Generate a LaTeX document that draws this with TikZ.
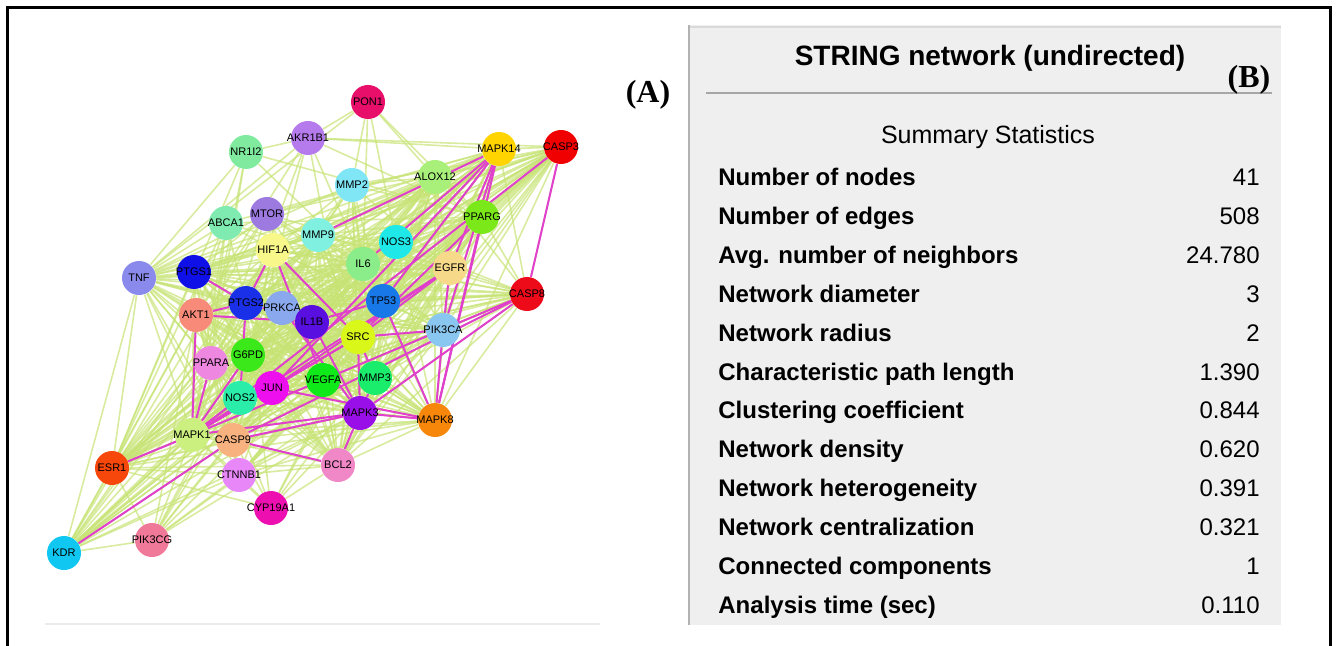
\documentclass[tikz,border=0pt]{standalone}
\usepackage{fontspec}
\setmainfont{Liberation Sans}
\newfontfamily\tagfont{Liberation Serif}
\usetikzlibrary{backgrounds}

\newlength{\du}
\setlength{\du}{0.5pt}

\definecolor{edgegreen}{rgb}{0.78,0.89,0.46}
\definecolor{edgepink}{rgb}{0.88,0.25,0.80}
\definecolor{panelgray}{rgb}{0.937,0.937,0.937}
\definecolor{panelrule}{rgb}{0.70,0.70,0.70}
% node fills
\definecolor{cPON}{rgb}{0.91,0.06,0.42}
\definecolor{cAKR}{rgb}{0.71,0.48,0.92}
\definecolor{cNRI}{rgb}{0.50,0.92,0.62}
\definecolor{cMKF}{rgb}{1.00,0.83,0.00}
\definecolor{cCSA}{rgb}{0.94,0.00,0.00}
\definecolor{cALX}{rgb}{0.66,0.94,0.48}
\definecolor{cMPB}{rgb}{0.50,0.90,0.96}
\definecolor{cMTR}{rgb}{0.61,0.48,0.88}
\definecolor{cABC}{rgb}{0.50,0.92,0.69}
\definecolor{cMPN}{rgb}{0.50,0.94,0.88}
\definecolor{cNOT}{rgb}{0.12,0.91,0.91}
\definecolor{cPPG}{rgb}{0.48,0.91,0.10}
\definecolor{cHIF}{rgb}{0.97,0.97,0.54}
\definecolor{cILS}{rgb}{0.54,0.93,0.54}
\definecolor{cEGF}{rgb}{0.97,0.85,0.54}
\definecolor{cCSE}{rgb}{0.93,0.04,0.10}
\definecolor{cTNF}{rgb}{0.54,0.54,0.93}
\definecolor{cPTA}{rgb}{0.06,0.06,0.91}
\definecolor{cAKT}{rgb}{0.97,0.54,0.47}
\definecolor{cPTB}{rgb}{0.10,0.19,0.91}
\definecolor{cPRK}{rgb}{0.54,0.66,0.93}
\definecolor{cILB}{rgb}{0.35,0.06,0.88}
\definecolor{cTPF}{rgb}{0.10,0.47,0.91}
\definecolor{cSRC}{rgb}{0.85,0.97,0.10}
\definecolor{cPIA}{rgb}{0.54,0.78,0.94}
\definecolor{cPPA}{rgb}{0.93,0.53,0.88}
\definecolor{cGSP}{rgb}{0.23,0.91,0.10}
\definecolor{cJUN}{rgb}{0.93,0.06,0.93}
\definecolor{cNOB}{rgb}{0.16,0.93,0.66}
\definecolor{cVEG}{rgb}{0.06,0.91,0.10}
\definecolor{cMPC}{rgb}{0.10,0.93,0.42}
\definecolor{cMKC}{rgb}{0.60,0.06,0.91}
\definecolor{cMKE}{rgb}{0.97,0.53,0.04}
\definecolor{cMKA}{rgb}{0.80,0.94,0.50}
\definecolor{cCSN}{rgb}{0.97,0.70,0.50}
\definecolor{cESR}{rgb}{0.97,0.28,0.04}
\definecolor{cCTN}{rgb}{0.91,0.53,0.97}
\definecolor{cBCL}{rgb}{0.94,0.53,0.78}
\definecolor{cCYP}{rgb}{0.93,0.06,0.69}
\definecolor{cPIG}{rgb}{0.94,0.47,0.60}
\definecolor{cKDR}{rgb}{0.06,0.78,0.94}

\tikzset{
  gene/.style={circle,inner sep=0pt,minimum size=34\du,font=\fontsize{5.5}{6}\selectfont},
  edge/.style={draw=edgegreen,line width=0.8pt,opacity=0.7},
  hit/.style={draw=edgepink,line width=1pt},
  statlab/.style={anchor=base west,inner sep=0pt,font=\fontsize{12}{14}\selectfont\bfseries},
  statval/.style={anchor=base east,inner sep=0pt,font=\fontsize{12}{14}\selectfont},
  paneltag/.style={inner sep=0pt,font=\fontsize{16}{18}\selectfont\tagfont\bfseries}
}

\def\corelist{MAPK14,CASP3,ALOX12,MMP9,NOS3,PPARG,HIF1A,IL6,EGFR,CASP8,PTGS1,AKT1,PTGS2,PRKCA,IL1B,TP53,SRC,PIK3CA,PPARA,G6PD,JUN,NOS2,VEGFA,MMP3,MAPK3,MAPK8,MAPK1,CASP9,ESR1,BCL2}

\begin{document}
\begin{tikzpicture}
\pgftransformxscale{1.000000}
\pgftransformyscale{-1.000000}
\useasboundingbox (0\du,0\du) rectangle (1336\du,646\du);

% outer frame, open at the bottom
\draw[line width=1.5pt] (7\du,646\du)--(7\du,8\du)--(1330\du,8\du)--(1330\du,646\du);
\draw[draw=black!8,line width=0.6pt] (45\du,624\du)--(600\du,624\du);

% (A) network
\foreach \name/\x/\y/\col in {
  PON1/368/102/cPON, AKR1B1/308/138/cAKR, NR1I2/246/152/cNRI,
  MAPK14/499/149/cMKF, CASP3/561/147/cCSA, ALOX12/435/177/cALX,
  MMP2/352/185/cMPB, MTOR/267/214/cMTR, ABCA1/226/223/cABC,
  MMP9/318/235/cMPN, NOS3/396/242/cNOT, PPARG/482/217/cPPG,
  HIF1A/273/250/cHIF, IL6/363/264/cILS, EGFR/450/268/cEGF,
  CASP8/527/294/cCSE, TNF/139/278/cTNF, PTGS1/194/272/cPTA,
  AKT1/196/315/cAKT, PTGS2/246/303/cPTB, PRKCA/282/308/cPRK,
  IL1B/312/322/cILB, TP53/383/301/cTPF, SRC/358/337/cSRC,
  PIK3CA/443/330/cPIA, PPARA/211/363/cPPA, G6PD/248/355/cGSP,
  JUN/272/388/cJUN, NOS2/240/398/cNOB, VEGFA/323/380/cVEG,
  MMP3/375/378/cMPC, MAPK3/360/413/cMKC, MAPK8/435/420/cMKE,
  MAPK1/192/435/cMKA, CASP9/233/440/cCSN, ESR1/112/468/cESR,
  CTNNB1/239/475/cCTN, BCL2/338/465/cBCL, CYP19A1/271/508/cCYP,
  PIK3CG/152/540/cPIG, KDR/64/553/cKDR}
  \node[gene,fill=\col] (\name) at (\x\du,\y\du) {\makebox[0pt]{\name}};

\begin{pgfonlayer}{background}
\foreach \a [count=\i] in \corelist {
  \foreach \b [count=\j] in \corelist {
    \ifnum\j>\i\relax \draw[edge] (\a) -- (\b); \fi
  }
}
\foreach \d in {PTGS1,AKT1,PTGS2,PRKCA,IL1B,IL6,HIF1A,SRC,EGFR,TP53,MAPK1,MAPK3,MAPK8,JUN,NOS2,CASP9,CASP3,CASP8,PPARA,VEGFA,MMP9,ESR1,KDR,BCL2,CTNNB1,MAPK14}
  \draw[edge] (TNF) -- (\d);
\foreach \d in {MAPK1,CASP9,ESR1,PIK3CG,SRC,VEGFA,EGFR,PIK3CA,AKT1,MAPK3,JUN,NOS2,NOS3,HIF1A,PTGS2,PRKCA,CASP3,MAPK14,CTNNB1,IL6,TP53}
  \draw[edge] (KDR) -- (\d);
\foreach \d in {MAPK1,CASP9,ESR1,AKT1,SRC,MAPK3,PIK3CA,PRKCA,CTNNB1,JUN,NOS2,G6PD}
  \draw[edge] (PIK3CG) -- (\d);
\foreach \d in {MAPK1,CASP9,AKT1,SRC,MAPK3,MAPK8,EGFR,TP53,JUN,ESR1,VEGFA,CASP3,PPARG,BCL2,CYP19A1}
  \draw[edge] (CTNNB1) -- (\d);
\foreach \d in {ESR1,MAPK1,CASP9,AKT1,PPARG,PTGS2,MAPK3,BCL2,SRC,TP53}
  \draw[edge] (CYP19A1) -- (\d);
\foreach \d in {HIF1A,AKT1,PTGS1,IL6,TP53,SRC,MAPK1,MAPK3,PIK3CA,EGFR,VEGFA,MAPK14,CASP3,TNF,KDR}
  \draw[edge] (MTOR) -- (\d);
\foreach \d in {PPARG,PPARA,TNF,HIF1A,IL6,AKT1,ESR1,MAPK1,PTGS2,MAPK14}
  \draw[edge] (ABCA1) -- (\d);
\foreach \d in {MMP9,IL6,TP53,VEGFA,MMP3,EGFR,SRC,HIF1A,TNF,MAPK1,MAPK3,CASP3,KDR,ALOX12,PPARG}
  \draw[edge] (MMP2) -- (\d);
\foreach \d in {AKR1B1,MMP2,IL6,ALOX12,PPARG,TNF,NOS3}
  \draw[edge] (PON1) -- (\d);
\foreach \d in {MAPK14,IL6,TNF,NOS2,PTGS2,MAPK3,CASP3,AKT1,PPARG,NR1I2}
  \draw[edge] (AKR1B1) -- (\d);
\foreach \d in {ESR1,PPARA,TNF,IL6,MAPK1,PPARG}
  \draw[edge] (NR1I2) -- (\d);
% stronger links
\foreach \a/\b in {MAPK14/MMP9,MAPK14/IL6,MAPK14/EGFR,MAPK14/PIK3CA,MAPK14/MAPK8,
  MAPK14/JUN,MAPK14/TP53,CASP3/CASP8,CASP3/MAPK1,CASP8/MAPK3,CASP8/CASP9,
  CASP8/MAPK1,PPARG/MAPK8,PPARG/SRC,EGFR/SRC,EGFR/MAPK1,EGFR/PIK3CA,EGFR/JUN,
  TP53/MAPK8,HIF1A/PTGS2,HIF1A/SRC,HIF1A/VEGFA,PTGS1/PTGS2,AKT1/PTGS2,AKT1/IL1B,
  PTGS2/NOS2,PTGS2/IL1B,IL1B/MAPK3,IL1B/TP53,SRC/MAPK3,SRC/MMP3,SRC/MAPK1,
  MAPK3/MAPK8,MAPK3/MAPK1,MAPK3/BCL2,MAPK1/ESR1,KDR/CASP9,JUN/MAPK8,JUN/MAPK1,
  JUN/SRC,NOS2/MAPK1,G6PD/MAPK1,PPARA/MAPK1,CASP9/BCL2,CASP9/MAPK3,MMP3/MAPK3,
  PIK3CA/MAPK8,PIK3CA/SRC,AKT1/MAPK1,PRKCA/MAPK3}
  \draw[hit] (\a) -- (\b);
\end{pgfonlayer}

% setfont left to latex
\node[paneltag] (tagA) at (648\du,95\du) {(A)};

% (B) summary panel
\fill[panelgray] (688\du,25\du) rectangle (1281\du,625\du);
\draw[draw=panelrule,line width=1.2pt] (689\du,25\du)--(689\du,625\du);
\draw[draw=black!15,line width=1pt] (690\du,27\du)--(1281\du,27\du);
\draw[draw=black!35,line width=1pt] (706\du,93\du)--(1272\du,93\du);
\node[inner sep=0pt,font=\fontsize{14}{16}\selectfont\bfseries] (title) at (990\du,58\du) {STRING network (undirected)};
\node[paneltag] (tagB) at (1249\du,80\du) {(B)};
\node[inner sep=0pt,font=\fontsize{12.5}{14}\selectfont] (summary) at (988\du,137\du) {Summary Statistics};
\foreach \lab/\val [count=\k] in {
  Number of nodes/41, Number of edges/508, Avg. number of neighbors/24.780,
  Network diameter/3, Network radius/2, Characteristic path length/1.390,
  Clustering coefficient/0.844, Network density/0.620,
  Network heterogeneity/0.391, Network centralization/0.321,
  Connected components/1, Analysis time (sec)/0.110} {
  \node[statlab] (stat\k) at (718\du,{(146.6+38.9*\k)*\du}) {\lab};
  \node[statval] (val\k) at (1260\du,{(146.6+38.9*\k)*\du}) {\val};
}
\end{tikzpicture}
\end{document}
